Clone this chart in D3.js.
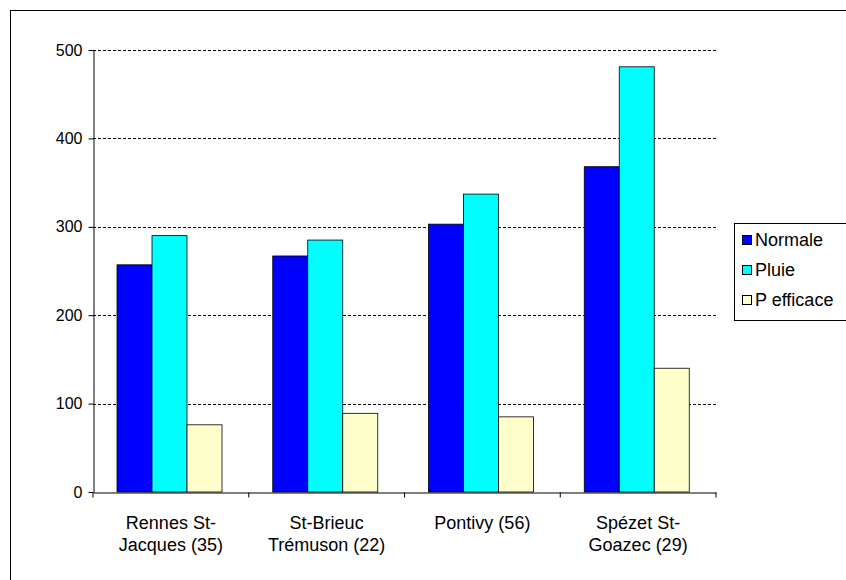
<!DOCTYPE html>
<html>
<head>
<meta charset="utf-8"/>
<script src="https://d3js.org/d3.v7.min.js"></script>
<style>body{margin:0;background:#fff}</style>
</head>
<body>
<svg id="c" width="846" height="580"></svg>
<script>
const categories = [["Rennes St-", "Jacques (35)"], ["St-Brieuc", "Trémuson (22)"], ["Pontivy (56)"], ["Spézet St-", "Goazec (29)"]];
const series = ["Normale", "Pluie", "P efficace"];
const normale = [257, 267, 303, 368];
const pluie = [290, 285, 337, 481];
const pEfficace = [76, 89, 85, 140];
const colors = ["#0000FF", "#00FFFF", "#FFFFCC"];
const yTicks = [0, 100, 200, 300, 400, 500];

const svg = d3.select("#c");
const font = "'Liberation Sans', Arial, sans-serif";
svg.append("rect").attr("x", 10.5).attr("y", 10.5).attr("width", 850).attr("height", 570)
  .attr("fill", "none").attr("stroke", "#000");

const x = d3.scaleBand().domain(d3.range(4)).range([93, 716]);
const y = d3.scaleLinear().domain([0, 500]).range([492, 50]);
const inner = d3.scaleBand().domain(d3.range(3)).range([24, 24 + 105]);

const g = svg.append("g");
g.selectAll(".grid").data(yTicks.slice(1)).join("line")
  .attr("x1", 93).attr("x2", 716).attr("y1", d => Math.round(y(d)) + 0.5).attr("y2", d => Math.round(y(d)) + 0.5)
  .attr("stroke", "#000").attr("stroke-dasharray", "3,2");

const vals = [normale, pluie, pEfficace];
vals.forEach((arr, s) => {
  g.selectAll(".b" + s).data(arr).join("rect")
    .attr("x", (d, i) => x(i) + inner(s)).attr("width", inner.bandwidth())
    .attr("y", d => y(d)).attr("height", d => y(0) - y(d))
    .attr("fill", colors[s]).attr("stroke", "#000").attr("stroke-width", 0.8);
});

const ya = svg.append("g").attr("transform", "translate(93.5,0)")
  .call(d3.axisLeft(y).tickValues(yTicks).tickSize(5).tickSizeOuter(0));
ya.selectAll("text").attr("font-family", font).attr("font-size", 16).attr("fill", "#000").attr("dx", -3);
ya.selectAll("line,path").attr("stroke", "#000");

const xa = svg.append("g").attr("transform", "translate(0,492.5)")
  .call(d3.axisBottom(x).tickValues([]).tickSizeOuter(0));
xa.select("path").attr("stroke", "#000");
xa.selectAll(".sep").data(d3.range(5)).join("line").attr("class", "sep")
  .attr("x1", i => i < 4 ? x(i) : 716).attr("x2", i => i < 4 ? x(i) : 716).attr("y1", 0).attr("y2", 5).attr("stroke", "#000");

categories.forEach((lines, i) => {
  const t = svg.append("text").attr("font-family", font).attr("font-size", 18).attr("text-anchor", "middle");
  lines.forEach((l, k) => t.append("tspan").attr("x", x(i) + x.bandwidth() / 2).attr("y", 529 + k * 22).text(l));
});

const lg = svg.append("g");
lg.append("rect").attr("x", 734.5).attr("y", 223.5).attr("width", 130).attr("height", 97)
  .attr("fill", "#fff").attr("stroke", "#000");
series.forEach((s, i) => {
  lg.append("rect").attr("x", 742.5).attr("y", 235.5 + i * 30).attr("width", 9).attr("height", 9)
    .attr("fill", colors[i]).attr("stroke", "#000");
  lg.append("text").attr("x", 755).attr("y", 246 + i * 30).attr("font-family", font).attr("font-size", 18).text(s);
});
</script>
</body>
</html>
